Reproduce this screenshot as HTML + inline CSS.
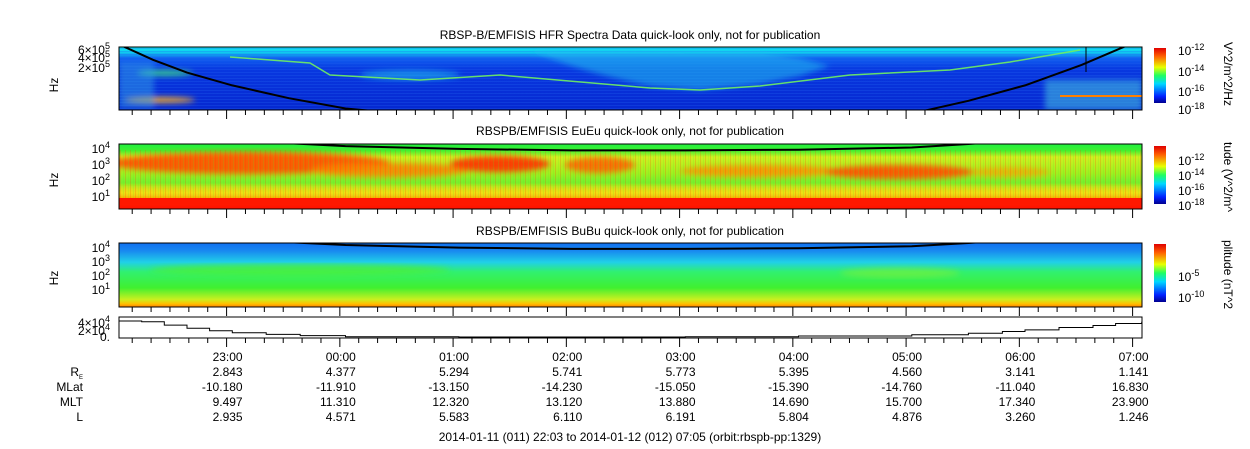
<!DOCTYPE html>
<html><head><meta charset="utf-8"><style>
html,body{margin:0;padding:0;background:#fff;width:1250px;height:449px;overflow:hidden}
svg{display:block;font-family:"Liberation Sans","DejaVu Sans",sans-serif}
</style></head><body>
<svg id="c" width="1250" height="449" viewBox="0 0 1250 449">
<defs>
<linearGradient id="jet" x1="0" y1="1" x2="0" y2="0">
<stop offset="0" stop-color="#00008f"/><stop offset="0.12" stop-color="#0020ff"/><stop offset="0.35" stop-color="#00d8ff"/>
<stop offset="0.5" stop-color="#20ff60"/><stop offset="0.65" stop-color="#e8ff00"/><stop offset="0.85" stop-color="#ff6000"/><stop offset="1" stop-color="#e00000"/></linearGradient>
<linearGradient id="g1" x1="0" y1="0" x2="0" y2="1">
<stop offset="0" stop-color="#10e8f0"/><stop offset="0.08" stop-color="#10d0f0"/><stop offset="0.18" stop-color="#1060f0"/><stop offset="0.35" stop-color="#0838e0"/><stop offset="1" stop-color="#0628d0"/></linearGradient>
<linearGradient id="g2" x1="0" y1="0" x2="0" y2="1">
<stop offset="0" stop-color="#20f040"/><stop offset="0.1" stop-color="#40f030"/><stop offset="0.2" stop-color="#d0f020"/><stop offset="0.45" stop-color="#a0f020"/><stop offset="0.6" stop-color="#70f030"/><stop offset="0.75" stop-color="#e8e810"/><stop offset="0.86" stop-color="#ff9000"/><stop offset="0.88" stop-color="#ff2000"/><stop offset="1" stop-color="#ff1000"/></linearGradient>
<linearGradient id="g3" x1="0" y1="0" x2="0" y2="1">
<stop offset="0" stop-color="#1070f0"/><stop offset="0.12" stop-color="#1888f0"/><stop offset="0.3" stop-color="#20d0e8"/><stop offset="0.45" stop-color="#30f070"/><stop offset="0.7" stop-color="#40f030"/><stop offset="0.88" stop-color="#c8f020"/><stop offset="0.95" stop-color="#ffc000"/><stop offset="1" stop-color="#ff8000"/></linearGradient>
<filter id="b3"><feGaussianBlur stdDeviation="3"/></filter>
<pattern id="stripes" width="4" height="3" patternUnits="userSpaceOnUse"><rect width="4" height="1" fill="#2060f0" opacity="0.3"/></pattern>
<pattern id="vstreak" width="5" height="20" patternUnits="userSpaceOnUse"><rect x="0" width="1" height="20" fill="#ff3000" opacity="0.2"/><rect x="3" width="1" height="20" fill="#40f020" opacity="0.15"/></pattern>
<clipPath id="cp1"><rect x="119" y="47" width="1023" height="63"/></clipPath>
<clipPath id="cp2"><rect x="119" y="144" width="1023" height="65"/></clipPath>
<clipPath id="cp3"><rect x="119" y="243" width="1023" height="64"/></clipPath>
</defs>

<text x="630" y="39" font-size="12" text-anchor="middle">RBSP-B/EMFISIS  HFR Spectra Data quick-look only, not for publication</text>
<text x="630" y="135" font-size="12" text-anchor="middle">RBSPB/EMFISIS  EuEu quick-look only, not for publication</text>
<text x="630" y="235" font-size="12" text-anchor="middle">RBSPB/EMFISIS  BuBu quick-look only, not for publication</text>

<g clip-path="url(#cp1)">
<rect x="119" y="47" width="1023" height="63" fill="url(#g1)"/>
<rect x="119" y="47" width="1023" height="63" fill="url(#stripes)"/>
<g filter="url(#b3)">
<path d="M530 50 Q580 72 650 86 L700 90 L760 84 L800 76 L830 66 L800 58 L760 52 Z" fill="#20c0f0" opacity="0.55"/>
<ellipse cx="410" cy="75" rx="50" ry="5" fill="#20c8f0" opacity="0.55"/>
<ellipse cx="165" cy="73" rx="28" ry="3" fill="#40e880" opacity="0.8"/>
<ellipse cx="160" cy="100" rx="35" ry="3" fill="#ffb020" opacity="0.9"/>
<rect x="119" y="62" width="35" height="46" fill="#30a0e8" opacity="0.5"/>
<rect x="1045" y="80" width="97" height="30" fill="#40b8e0" opacity="0.6"/>
</g>
<path d="M230 57 L310 63 L330 75 L420 80 L500 75 L650 88 L700 90 L760 86 L850 75 L950 70 L1010 62 L1080 50" fill="none" stroke="#70f060" stroke-width="1.5" opacity="0.9"/>
<path d="M1060 96 L1142 96" stroke="#ff8000" stroke-width="2"/>
<path id="p1curve" fill="none" stroke="#000" stroke-width="2"/>
<line x1="1086" y1="47" x2="1086" y2="72" stroke="#000" stroke-width="1"/>
</g>
<rect x="119" y="47" width="1023" height="63" fill="none" stroke="#000"/>

<g clip-path="url(#cp2)">
<rect x="119" y="144" width="1023" height="65" fill="url(#g2)"/>
<g filter="url(#b3)">
<ellipse cx="250" cy="163" rx="140" ry="11" fill="#ff5000" opacity="0.9"/>
<ellipse cx="390" cy="170" rx="80" ry="7" fill="#ff8000" opacity="0.85"/>
<ellipse cx="500" cy="164" rx="50" ry="8" fill="#ff3000" opacity="0.9"/>
<ellipse cx="600" cy="165" rx="35" ry="8" fill="#ff6000" opacity="0.85"/>
<ellipse cx="760" cy="171" rx="80" ry="6" fill="#ff9000" opacity="0.85"/>
<ellipse cx="900" cy="172" rx="75" ry="7" fill="#ff5000" opacity="0.9"/>
<ellipse cx="1010" cy="172" rx="40" ry="5" fill="#ffa000" opacity="0.7"/>
<rect x="119" y="186" width="1023" height="10" fill="#f8d810" opacity="0.6"/>
</g>
<rect x="119" y="150" width="1023" height="48" fill="url(#vstreak)"/>
<rect x="119" y="198" width="1023" height="6" fill="#ff1800"/>
<path id="p2curve" fill="none" stroke="#000" stroke-width="2"/>
</g>
<rect x="119" y="144" width="1023" height="65" fill="none" stroke="#000"/>

<g clip-path="url(#cp3)">
<rect x="119" y="243" width="1023" height="64" fill="url(#g3)"/>
<g filter="url(#b3)">
<ellipse cx="300" cy="270" rx="150" ry="6" fill="#50f030" opacity="0.7"/>
<ellipse cx="900" cy="273" rx="60" ry="5" fill="#80f030" opacity="0.6"/>
</g>
<path id="p3curve" fill="none" stroke="#000" stroke-width="2"/>
</g>
<rect x="119" y="243" width="1023" height="64" fill="none" stroke="#000"/>

<rect x="119" y="317" width="1023" height="21" fill="#fff" stroke="#000"/>
<path id="p4line" fill="none" stroke="#000" stroke-width="1"/>

<rect x="1154" y="48" width="12" height="55" fill="url(#jet)"/>
<rect x="1154" y="146" width="12" height="58" fill="url(#jet)"/>
<rect x="1154" y="244" width="12" height="58" fill="url(#jet)"/>
<g font-size="12">
<text x="1178" y="55">10<tspan dy="-5" font-size="9">-12</tspan></text>
<text x="1178" y="76">10<tspan dy="-5" font-size="9">-14</tspan></text>
<text x="1178" y="96">10<tspan dy="-5" font-size="9">-16</tspan></text>
<text x="1178" y="114">10<tspan dy="-5" font-size="9">-18</tspan></text>
<text x="1178" y="165">10<tspan dy="-5" font-size="9">-12</tspan></text>
<text x="1178" y="180">10<tspan dy="-5" font-size="9">-14</tspan></text>
<text x="1178" y="195">10<tspan dy="-5" font-size="9">-16</tspan></text>
<text x="1178" y="210">10<tspan dy="-5" font-size="9">-18</tspan></text>
<text x="1178" y="281">10<tspan dy="-5" font-size="9">-5</tspan></text>
<text x="1178" y="302">10<tspan dy="-5" font-size="9">-10</tspan></text>
</g>
<g font-size="12">
<text transform="translate(1224,42) rotate(90)">V^2/m^2/Hz</text>
<text transform="translate(1224,142) rotate(90)">tude (V^2/m^</text>
<text transform="translate(1224,240) rotate(90)">plitude (nT^2</text>
</g>

<g font-size="12">
<text transform="translate(58,85) rotate(-90)" text-anchor="middle">Hz</text>
<text transform="translate(58,180) rotate(-90)" text-anchor="middle">Hz</text>
<text transform="translate(58,278) rotate(-90)" text-anchor="middle">Hz</text>
<text x="110" y="54" text-anchor="end">6×10<tspan dy="-5" font-size="9">5</tspan></text>
<text x="110" y="62" text-anchor="end">4×10<tspan dy="-5" font-size="9">5</tspan></text>
<text x="110" y="72" text-anchor="end">2×10<tspan dy="-5" font-size="9">5</tspan></text>
<text x="110" y="153" text-anchor="end">10<tspan dy="-5" font-size="9">4</tspan></text>
<text x="110" y="169" text-anchor="end">10<tspan dy="-5" font-size="9">3</tspan></text>
<text x="110" y="185" text-anchor="end">10<tspan dy="-5" font-size="9">2</tspan></text>
<text x="110" y="201" text-anchor="end">10<tspan dy="-5" font-size="9">1</tspan></text>
<text x="110" y="252" text-anchor="end">10<tspan dy="-5" font-size="9">4</tspan></text>
<text x="110" y="266" text-anchor="end">10<tspan dy="-5" font-size="9">3</tspan></text>
<text x="110" y="280" text-anchor="end">10<tspan dy="-5" font-size="9">2</tspan></text>
<text x="110" y="294" text-anchor="end">10<tspan dy="-5" font-size="9">1</tspan></text>
<text x="110" y="327" text-anchor="end">4×10<tspan dy="-5" font-size="9">4</tspan></text>
<text x="110" y="335" text-anchor="end">2×10<tspan dy="-5" font-size="9">4</tspan></text>
<text x="110" y="341" text-anchor="end">0.</text>
</g>
<g id="ticks" stroke="#000"></g>

<g font-size="12" text-anchor="end">
<text x="83" y="376">R<tspan font-size="6" dy="3">E</tspan></text>
<text x="83" y="391">MLat</text>
<text x="83" y="406">MLT</text>
<text x="83" y="421">L</text>
</g>
<g id="cols" font-size="12" text-anchor="end"></g>
<text x="630" y="441" font-size="12" text-anchor="middle">2014-01-11 (011) 22:03 to 2014-01-12 (012) 07:05 (orbit:rbspb-pp:1329)</text>
</svg>
<script>
const timeLabels = ["23:00","00:00","01:00","02:00","03:00","04:00","05:00","06:00","07:00"];
const re = ["2.843","4.377","5.294","5.741","5.773","5.395","4.560","3.141","1.141"];
const mlat = ["-10.180","-11.910","-13.150","-14.230","-15.050","-15.390","-14.760","-11.040","16.830"];
const mlt = ["9.497","11.310","12.320","13.120","13.880","14.690","15.700","17.340","23.900"];
const lshell = ["2.935","4.571","5.583","6.110","6.191","5.804","4.876","3.260","1.246"];
const fceHours = [0,0.2,0.4,0.6,0.8,1.0,1.3,1.6,2.0,3,4,5,6,7,7.5,7.8,8.0,8.3,8.6,8.8,9.03];
const fceVals = [4.2,4.0,3.2,2.4,1.8,1.3,0.9,0.6,0.3,0.25,0.25,0.3,0.5,0.8,1.2,1.6,2.0,2.6,3.1,3.6,4.0];
const curveHours = [0,0.3,0.6,1.0,1.5,2.0,3,4,5,6,7,7.5,8,8.5,9.03];
const curveLog = [6.4,6.1,5.85,5.6,5.35,5.15,4.95,4.85,4.85,4.9,5.05,5.3,5.6,6.0,6.5];

const X0=119, X1=1142, T0=0, T1=9.033;
const sx = h => X0 + (h-T0)/(T1-T0)*(X1-X0);
const ns="http://www.w3.org/2000/svg";
const y1 = v => 47 + (6.35 - v)/(6.35-5.12)*63;
const y2 = v => 144 + (4.3 - (v-1.0))/(4.6)*65;
const y3 = v => 243 + (4.3 - (v-1.0))/(4.9)*64;
const y4 = v => 338 - v/5.2*21;
function pathFrom(hs, vs, fy){return hs.map((h,i)=>(i?'L':'M')+sx(h).toFixed(1)+' '+fy(vs[i]).toFixed(1)).join(' ');}
document.getElementById('p1curve').setAttribute('d', pathFrom(curveHours, curveLog, y1));
document.getElementById('p2curve').setAttribute('d', pathFrom(curveHours, curveLog, y2));
document.getElementById('p3curve').setAttribute('d', pathFrom(curveHours, curveLog, y3));
let d='';
fceHours.forEach((h,i)=>{const x=sx(h),y=y4(fceVals[i]);d+= i? ('H'+x.toFixed(1)+'V'+y.toFixed(1)) : ('M'+x.toFixed(1)+' '+y.toFixed(1));});
document.getElementById('p4line').setAttribute('d', d);

const tg=document.getElementById('ticks');
const panels=[[47,110],[144,209],[243,307],[317,338]];
for(let k=-5;k<=49;k++){
  const h = (57 + k*10)/60;
  if(h<0.02||h>T1-0.02) continue;
  const x=sx(h), major=(k%6===0);
  panels.forEach(([t,b])=>{
    const l=document.createElementNS(ns,'line');
    
    
    l.setAttribute('x1',x);l.setAttribute('x2',x);
    l.setAttribute('y1',b);l.setAttribute('y2',b+(major?9:5));
    tg.appendChild(l);
  });
}
const cg=document.getElementById('cols');
const rows=[timeLabels,re,mlat,mlt,lshell];
const rowY=[361,376,391,406,421];
timeLabels.forEach((_,i)=>{
  const x=sx((57+i*60)/60)+16;
  rows.forEach((r,j)=>{
    const t=document.createElementNS(ns,'text');
    
    
    t.setAttribute('x',x.toFixed(1));t.setAttribute('y',rowY[j]);
    t.textContent=r[i];cg.appendChild(t);
  });
});
</script>
</body></html>
